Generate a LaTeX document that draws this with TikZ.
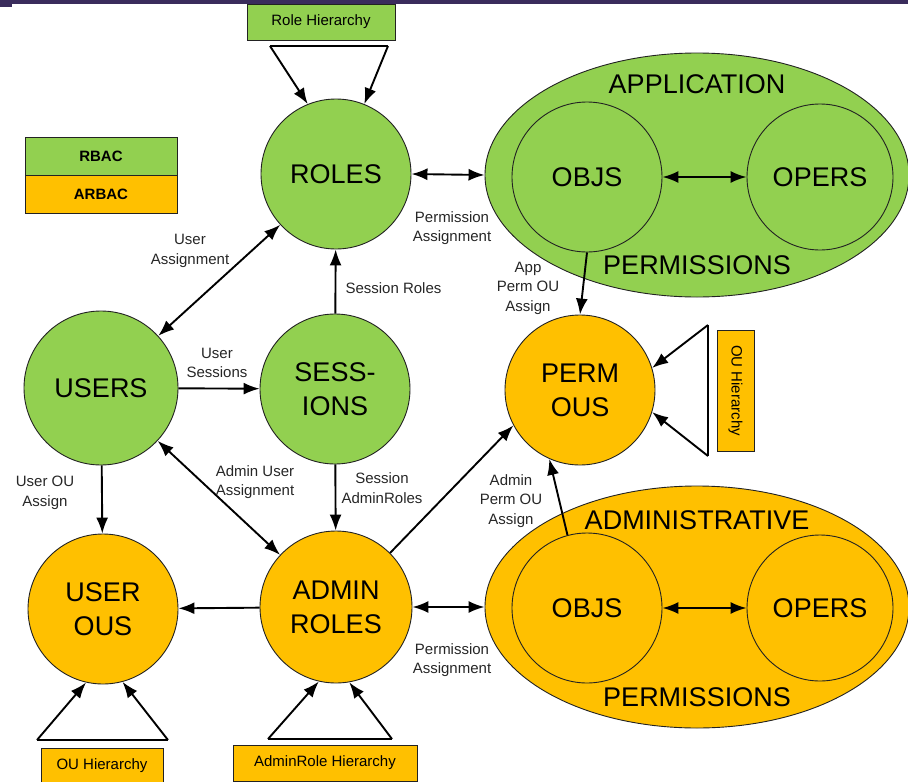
\documentclass[tikz,border=0pt]{standalone}
\usepackage{fontspec}
\setmainfont{Liberation Sans}
\usetikzlibrary{arrows.meta,shapes.geometric}
\definecolor{rbacgreen}{HTML}{92D050}
\definecolor{arbacorange}{HTML}{FFC000}
\definecolor{edgegray}{HTML}{222222}
\definecolor{barpurple}{HTML}{3A2C5C}
\begin{document}
\begin{tikzpicture}[x=1pt,y=-1pt,
  ent/.style={circle, draw=edgegray, line width=0.9pt, inner sep=0pt, align=center,
              font=\fontsize{27}{34}\selectfont},
  rbac/.style={fill=rbacgreen},
  arbac/.style={fill=arbacorange},
  perm/.style={ellipse, draw=edgegray, line width=0.9pt, inner sep=0pt,
               minimum width=424pt, minimum height=244pt},
  caption/.style={font=\fontsize{27}{34}\selectfont},
  lbl/.style={align=center, font=\fontsize{15}{19.5}\selectfont, text=black!85},
  hbox/.style={draw=edgegray, line width=0.9pt, inner sep=0pt,
               font=\fontsize{15}{18}\selectfont},
  link/.style={line width=1.9pt, -{Latex[length=16pt,width=12pt]}},
  link2/.style={line width=1.9pt, {Latex[length=16pt,width=12pt]}-{Latex[length=16pt,width=12pt]}},
  tri/.style={line width=1.9pt}
]
\useasboundingbox (0,0) rectangle (908,782);

% top rule
\fill[barpurple] (0,0) rectangle (908,4);
\fill[barpurple] (0,0) rectangle (12,7);

% legend
\node[hbox, rbac, minimum width=152pt, minimum height=38pt, font=\bfseries\fontsize{15}{18}\selectfont]
  (legR) at (101,156) {RBAC};
\node[hbox, arbac, minimum width=152pt, minimum height=38pt, font=\bfseries\fontsize{15}{18}\selectfont]
  (legA) at (101,194) {ARBAC};

% permission ellipses
\node[perm, rbac] (appperm) at (697,175) {};
\node[perm, arbac, minimum height=242pt] (admperm) at (697,607) {};
\node[caption] (appcap) at (697,84) {APPLICATION};
\node[caption] (appcap2) at (697,265) {PERMISSIONS};
\node[caption] (admcap) at (697,520) {ADMINISTRATIVE};
\node[caption] (admcap2) at (697,697) {PERMISSIONS};

% entities
\node[ent, rbac, minimum size=150pt] (roles) at (336,174) {ROLES};
\node[ent, rbac, minimum size=154pt] (users) at (101,388) {USERS};
\node[ent, rbac, minimum size=150pt] (sess) at (335,389) {SESS-\\IONS};
\node[ent, arbac, minimum size=150pt] (userous) at (103,609) {USER\\OUS};
\node[ent, arbac, minimum size=152pt] (adminroles) at (336,607) {ADMIN\\ROLES};
\node[ent, arbac, minimum size=150pt] (permous) at (580,390) {PERM\\OUS};
\node[ent, rbac, minimum size=150pt] (appobjs) at (587,177) {OBJS};
\node[ent, rbac, minimum size=146pt] (appopers) at (820,177) {OPERS};
\node[ent, arbac, minimum size=150pt] (admobjs) at (587,608) {OBJS};
\node[ent, arbac, minimum size=146pt] (admopers) at (820,608) {OPERS};

% hierarchy boxes
\node[hbox, rbac, minimum width=148pt, minimum height=36pt] (rolehier) at (321,22) {Role Hierarchy};
\node[hbox, arbac, minimum width=37pt, minimum height=121pt] (ouhierR) at (735.5,390.5)
  {\rotatebox{-90}{OU Hierarchy}};
\node[hbox, arbac, minimum width=122pt, minimum height=36pt] (ouhierB) at (102,766) {OU Hierarchy};
\node[hbox, arbac, minimum width=184pt, minimum height=36pt] (arhier) at (325,763) {AdminRole Hierarchy};

% hierarchy triangles
\coordinate (rhL) at (270,46);
\coordinate (rhR) at (388,46);
\draw[tri] (rhL) -- (rhR);
\draw[link] (rhL) -- (roles.112);
\draw[link] (rhR) -- (roles.68);

\coordinate (ohT) at (708,325);
\coordinate (ohB) at (708,456);
\draw[tri] (ohT) -- (ohB);
\draw[link] (ohT) -- (permous.17);
\draw[link] (ohB) -- (permous.-17);

\coordinate (obL) at (37,740);
\coordinate (obR) at (168,740);
\draw[tri] (obL) -- (obR);
\draw[link] (obL) -- (userous.-103);
\draw[link] (obR) -- (userous.-75);

\coordinate (arL) at (268,739);
\coordinate (arR) at (392,739);
\draw[tri] (arL) -- (arR);
\draw[link] (arL) -- (adminroles.-103);
\draw[link] (arR) -- (adminroles.-80);

% relations
\draw[link2] (users) -- (roles);
\draw[link2] (roles.east) -- (appperm.west);
\draw[link2] (appobjs) -- (appopers);
\draw[link] (sess) -- (roles);
\draw[link] (users) -- (sess);
\draw[link] (sess) -- (adminroles);
\draw[link] (users) -- (userous);
\draw[link] (adminroles) -- (userous);
\draw[link2] (users) -- (adminroles);
\draw[link] (adminroles.45) -- (permous.208);
\draw[link] (appobjs.south) -- (permous.north);
\draw[link] (admobjs.105) -- (permous.246);
\draw[link2] (adminroles.east) -- (admperm.west);
\draw[link2] (admobjs) -- (admopers);

% relation labels
\node[lbl] (lUA) at (190,251) {User\\Assignment};
\node[lbl] (lPA1) at (452,228) {Permission\\Assignment};
\node[lbl, anchor=west] (lSR) at (342,288) {Session Roles};
\node[lbl] (lAP) at (528,288) {App\\Perm OU\\Assign};
\node[lbl] (lUS) at (217,363) {User\\Sessions};
\node[lbl] (lSA) at (382,488) {Session\\AdminRoles};
\node[lbl] (lAUA) at (255,482) {Admin User\\Assignment};
\node[lbl] (lUO) at (45,493) {User OU\\Assign};
\node[lbl] (lADP) at (511,501) {Admin\\Perm OU\\Assign};
\node[lbl] (lPA2) at (452,660) {Permission\\Assignment};
\end{tikzpicture}
\end{document}
